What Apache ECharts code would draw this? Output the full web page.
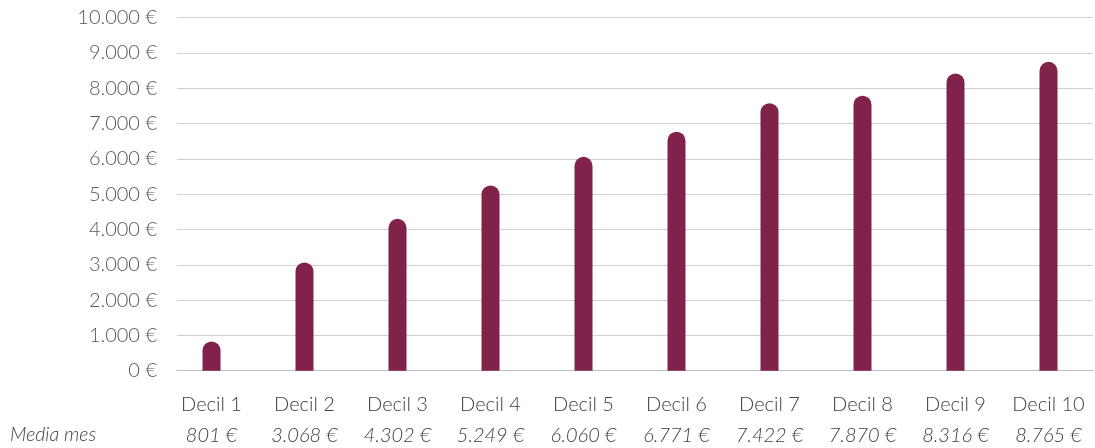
<!DOCTYPE html>
<html><head><meta charset="utf-8">
<script src="https://cdn.jsdelivr.net/npm/echarts@6/dist/echarts.min.js"></script>
<style>html,body{margin:0;padding:0;background:#fff}#c{width:1095px;height:448px}</style>
</head><body><div id="c"></div>
<script>
const categories = ['Decil 1','Decil 2','Decil 3','Decil 4','Decil 5','Decil 6','Decil 7','Decil 8','Decil 9','Decil 10'];
const barValues = [830, 3068, 4302, 5249, 6060, 6771, 7580, 7790, 8420, 8750];
const medianLabels = ['801 €','3.068 €','4.302 €','5.249 €','6.060 €','6.771 €','7.422 €','7.870 €','8.316 €','8.765 €'];
const rowLabel = 'Media mes';
const yMin = 0, yMax = 10000, yStep = 1000;

const FONT = 'Lato';
const fmtEuro = v => String(v).replace(/\B(?=(\d{3})+(?!\d))/g, '.') + ' €';

const chart = echarts.init(document.getElementById('c'), null, {renderer:'canvas'});
chart.setOption({
  animation: false,
  backgroundColor: '#fff',
  textStyle: {fontFamily: FONT},
  grid: [
    {left: 177, right: 2, top: 17.7, height: 353},
    {left: 165, right: 0, top: 17.7, height: 353}
  ],
  xAxis: [
    {gridIndex: 0, type: 'category', data: categories, show: true,
     axisLine: {show: true, lineStyle: {color: '#bdbdbd', width: 1}},
     axisTick: {show: false}, axisLabel: {show: false}, splitLine: {show: false}},
    {gridIndex: 1, type: 'category', data: categories,
     axisLine: {show: false}, axisTick: {show: false},
     axisLabel: {
       margin: 18, interval: 0,
       formatter: (v, i) => '{a|' + v + '}\n{b|' + medianLabels[i] + '}',
       rich: {
         a: {fontFamily: FONT, fontSize: 20, fontWeight: 300, color: '#404040', lineHeight: 31, align: 'center'},
         b: {fontFamily: FONT, fontSize: 20, fontWeight: 300, fontStyle: 'italic', color: '#404040', lineHeight: 32, align: 'center'}
       }
     }}
  ],
  yAxis: [
    {gridIndex: 0, type: 'value', min: yMin, max: yMax, interval: yStep,
     axisLine: {show: false}, axisTick: {show: false},
     axisLabel: {margin: 20, fontFamily: FONT, fontSize: 20, fontWeight: 300, color: '#595959', formatter: v => fmtEuro(v)},
     splitLine: {show: true, lineStyle: {color: '#d0d0d0', width: 1}}},
    {gridIndex: 1, type: 'value', min: yMin, max: yMax, interval: yStep, show: false, splitLine: {show: false}}
  ],
  graphic: [{
    type: 'text', left: 10, top: 425,
    style: {text: rowLabel, fontFamily: FONT, fontSize: 19.5, fontWeight: 300, fontStyle: 'italic', fill: '#404040'}
  }],
  series: [{
    type: 'bar', xAxisIndex: 1, yAxisIndex: 1, data: barValues,
    barWidth: 18,
    itemStyle: {color: '#80224A', borderRadius: [9, 9, 0, 0]},
    z: 3
  }]
});
</script></body></html>
